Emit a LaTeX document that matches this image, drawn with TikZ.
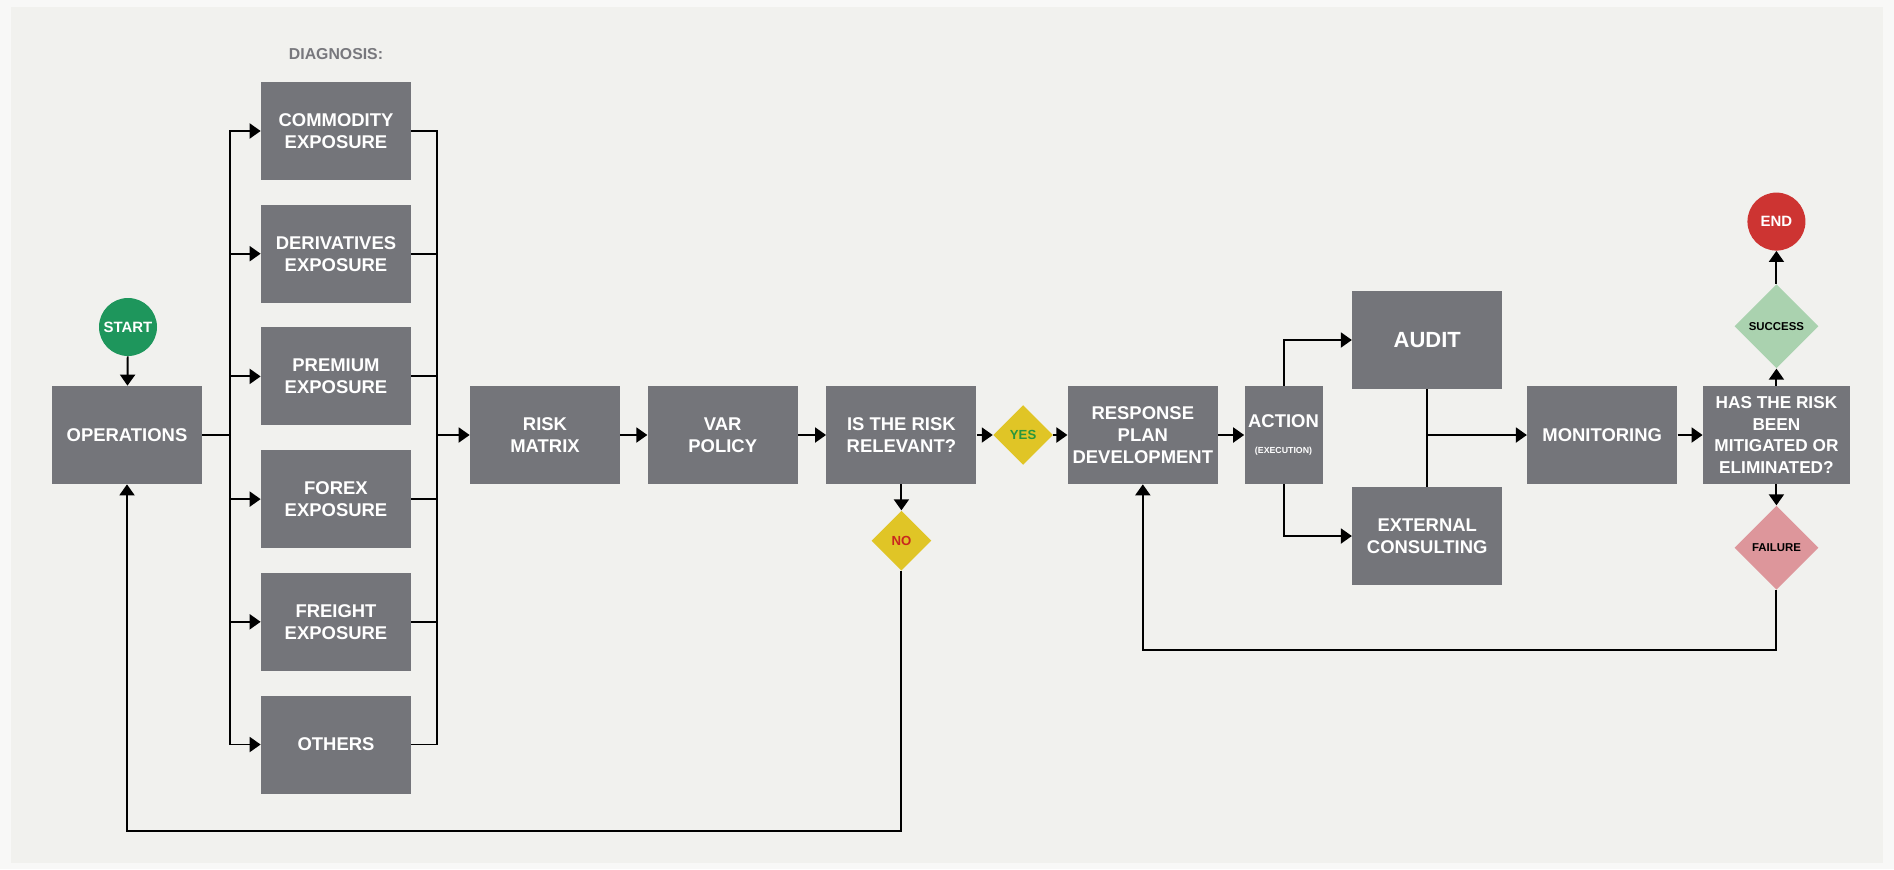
\documentclass[tikz,border=0pt]{standalone}
\usepackage{fontspec}
\setmainfont{Liberation Sans}
\usetikzlibrary{arrows.meta,positioning,shapes.geometric}
\definecolor{frame}{RGB}{248,248,247}
\definecolor{panel}{RGB}{241,241,238}
\definecolor{slate}{RGB}{116,117,122}
\definecolor{headgrey}{RGB}{120,120,125}
\definecolor{startgreen}{RGB}{30,150,92}
\definecolor{endred}{RGB}{205,52,50}
\definecolor{gate}{RGB}{224,197,38}
\definecolor{yesgreen}{RGB}{40,150,60}
\definecolor{nored}{RGB}{200,40,30}
\definecolor{successgreen}{RGB}{170,210,175}
\definecolor{failpink}{RGB}{221,150,155}
\tikzset{
  stage/.style={fill=slate,text=white,minimum width=3cm,minimum height=1.96cm,inner sep=1pt,align=center,font=\bfseries\fontsize{10.5}{12.5}\selectfont},
  decision/.style={diamond,aspect=1,fill=gate,inner sep=0pt,minimum size=1.2cm,font=\bfseries\fontsize{7.5}{9}\selectfont},
  outcome/.style={decision,minimum size=1.68cm,font=\bfseries\fontsize{6.5}{8}\selectfont},
  terminal/.style={circle,inner sep=0pt,minimum size=1.16cm,text=white,font=\bfseries\fontsize{8.5}{10}\selectfont},
  heading/.style={inner sep=0pt,text=headgrey,font=\bfseries\fontsize{9}{10}\selectfont},
  arr/.style={-{Triangle[length=2.2mm,width=3mm]},line width=1.1pt},
  link/.style={line width=1.1pt}
}
\begin{document}
\begin{tikzpicture}[node distance=0.48cm]
  \useasboundingbox (0,0) rectangle (37.88,-17.38);
  \fill[frame] (0,0) rectangle (37.88,-17.38);
  \fill[panel] (0.22,-0.14) rectangle (37.66,-17.26);

  % start and the diagnosis column
  \node[terminal,fill=startgreen] (start) at (2.56,-6.54) {START};
  \node[stage] (ops) at (2.54,-8.70) {OPERATIONS};
  \node[stage] (commodity) at (6.72,-2.62) {COMMODITY\\EXPOSURE};
  \node[stage,below=of commodity] (derivatives) {DERIVATIVES\\EXPOSURE};
  \node[stage,below=of derivatives] (premium) {PREMIUM\\EXPOSURE};
  \node[stage,below=of premium] (forex) {FOREX\\EXPOSURE};
  \node[stage,below=of forex] (freight) {FREIGHT\\EXPOSURE};
  \node[stage,below=of freight] (others) {OTHERS};
  \node[heading,above=0.44cm of commodity] (diaghead) {DIAGNOSIS:};
  \coordinate (fanout) at (4.6,-8.70);
  \coordinate (fanin) at (8.74,-8.70);

  % main row
  \node[stage] (matrix) at (10.9,-8.70) {RISK\\MATRIX};
  \node[stage,right=0.54cm of matrix] (var) {VAR\\POLICY};
  \node[stage,right=0.56cm of var] (relevant) {IS THE RISK\\RELEVANT?};
  \node[decision,right=0.32cm of relevant,text=yesgreen] (yes) {YES};
  \node[decision,below=0.52cm of relevant,text=nored] (no) {NO};
  \node[stage,right=0.28cm of yes] (plan) {RESPONSE\\PLAN\\DEVELOPMENT};
  \node[stage,minimum width=1.56cm,right=0.52cm of plan] (action) {ACTION\\[2pt]{\fontsize{5}{6}\selectfont(EXECUTION)}};
  \node[stage,right=0.58cm of action,yshift=1.9cm,font=\bfseries\fontsize{12.5}{14}\selectfont] (audit) {AUDIT};
  \node[stage,right=0.58cm of action,yshift=-2.02cm] (consult) {EXTERNAL\\CONSULTING};
  \node[stage,right=4.08cm of action] (monitor) {MONITORING};
  \node[stage,minimum width=2.94cm,right=0.5cm of monitor,font=\bfseries\fontsize{9.8}{12.3}\selectfont] (mitigated) {HAS THE RISK\\BEEN\\MITIGATED OR\\ELIMINATED?};
  \node[outcome,fill=successgreen,above=0.34cm of mitigated] (success) {SUCCESS};
  \node[terminal,fill=endred,above=0.66cm of success] (finish) {END};
  \node[outcome,fill=failpink,below=0.42cm of mitigated] (failure) {FAILURE};
  \coordinate (noloop) at (0,-16.62);
  \coordinate (failloop) at (0,-13.0);

  % connectors
  \draw[arr] (start) -- (ops);
  \draw[arr] (ops.east) -- (fanout) |- (commodity.west);
  \draw[arr] (ops.east) -- (fanout) |- (derivatives.west);
  \draw[arr] (ops.east) -- (fanout) |- (premium.west);
  \draw[arr] (ops.east) -- (fanout) |- (forex.west);
  \draw[arr] (ops.east) -- (fanout) |- (freight.west);
  \draw[arr] (ops.east) -- (fanout) |- (others.west);
  \draw[link] (commodity.east) -| (fanin); \draw[link] (derivatives.east) -| (fanin);
  \draw[link] (premium.east) -| (fanin); \draw[link] (forex.east) -| (fanin);
  \draw[link] (freight.east) -| (fanin); \draw[link] (others.east) -| (fanin);
  \draw[arr] (fanin) -- (matrix);
  \draw[arr] (matrix) -- (var); \draw[arr] (var) -- (relevant);
  \draw[arr] (relevant) -- (yes); \draw[arr] (yes) -- (plan); \draw[arr] (plan) -- (action);
  \draw[arr] (relevant) -- (no);
  \draw[arr] (no.south) |- (ops.south |- noloop) -- (ops.south);
  \draw[arr] (action.north) |- (audit.west); \draw[arr] (action.south) |- (consult.west);
  \draw[link] (audit.south) -- (consult.north);
  \draw[arr] (audit.south |- monitor.west) -- (monitor.west);
  \draw[arr] (monitor) -- (mitigated);
  \draw[arr] (mitigated) -- (success); \draw[arr] (success) -- (finish);
  \draw[arr] (mitigated) -- (failure);
  \draw[arr] (failure.south) |- (plan.south |- failloop) -- (plan.south);
\end{tikzpicture}
\end{document}
